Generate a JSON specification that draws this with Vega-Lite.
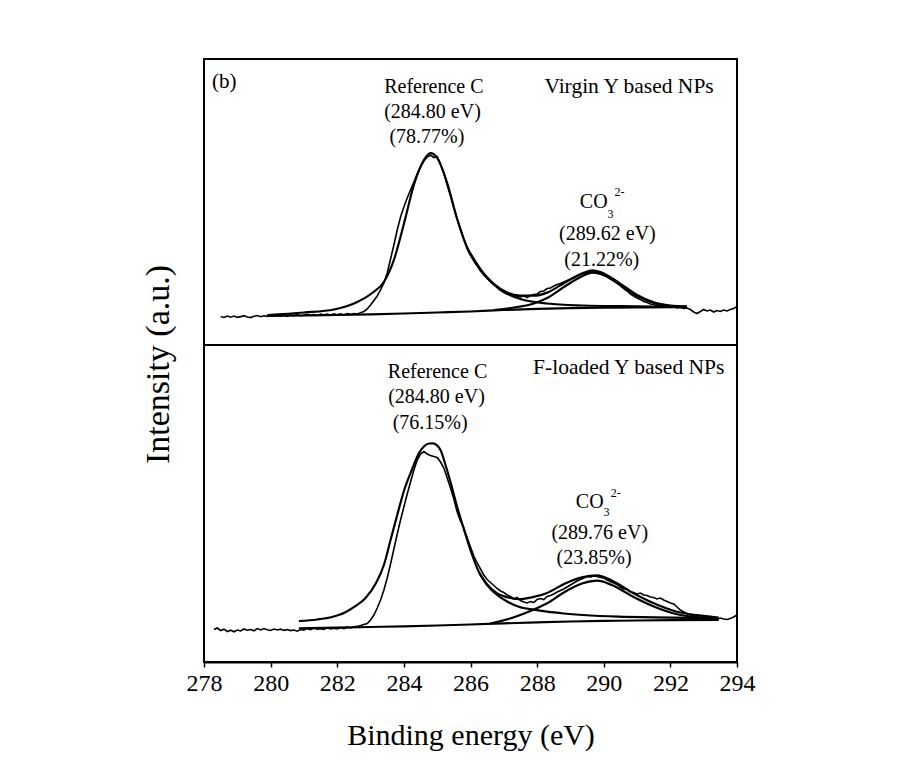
{
"$schema": "https://vega.github.io/schema/vega-lite/v6.json",
"autosize": {"type": "none"},
"padding": {"left": 204, "top": 59, "right": 167, "bottom": 114},
"width": 533,
"height": 603,
"background": "white",
"config": {"view": {"stroke": "black", "strokeWidth": 2}, "font": "Liberation Serif", "axis": {"grid": false}},
"datasets": {
"raw": [
{"panel":"top","energy":278.5,"intensity":345.5},{"panel":"top","energy":278.6,"intensity":344.5},{"panel":"top","energy":278.7,"intensity":346.0},{"panel":"top","energy":278.8,"intensity":344.8},{"panel":"top","energy":278.9,"intensity":345.9},{"panel":"top","energy":279.0,"intensity":344.6},{"panel":"top","energy":279.1,"intensity":345.4},{"panel":"top","energy":279.2,"intensity":346.3},{"panel":"top","energy":279.3,"intensity":345.0},{"panel":"top","energy":279.4,"intensity":344.4},{"panel":"top","energy":279.5,"intensity":345.7},{"panel":"top","energy":279.6,"intensity":346.5},{"panel":"top","energy":279.7,"intensity":345.3},{"panel":"top","energy":279.8,"intensity":346.2},{"panel":"top","energy":279.9,"intensity":345.6},{"panel":"top","energy":280.0,"intensity":346.8},{"panel":"top","energy":280.1,"intensity":345.8},{"panel":"top","energy":280.2,"intensity":347.1},{"panel":"top","energy":280.3,"intensity":346.0},{"panel":"top","energy":280.4,"intensity":346.9},{"panel":"top","energy":280.5,"intensity":345.7},{"panel":"top","energy":280.6,"intensity":347.2},{"panel":"top","energy":280.7,"intensity":346.4},{"panel":"top","energy":280.8,"intensity":347.5},{"panel":"top","energy":280.9,"intensity":346.3},{"panel":"top","energy":281.0,"intensity":346.9},{"panel":"top","energy":281.1,"intensity":347.8},{"panel":"top","energy":281.2,"intensity":346.6},{"panel":"top","energy":281.3,"intensity":347.4},{"panel":"top","energy":281.4,"intensity":346.5},{"panel":"top","energy":281.5,"intensity":348.0},{"panel":"top","energy":281.6,"intensity":347.1},{"panel":"top","energy":281.7,"intensity":347.9},{"panel":"top","energy":281.8,"intensity":346.8},{"panel":"top","energy":281.9,"intensity":348.2},{"panel":"top","energy":282.0,"intensity":347.3},{"panel":"top","energy":282.1,"intensity":348.1},{"panel":"top","energy":282.2,"intensity":347.0},{"panel":"top","energy":282.3,"intensity":348.4},{"panel":"top","energy":282.4,"intensity":347.6},{"panel":"top","energy":282.5,"intensity":348.5},{"panel":"top","energy":282.6,"intensity":348.0},{"panel":"top","energy":282.7,"intensity":349.2},{"panel":"top","energy":282.8,"intensity":350.5},{"panel":"top","energy":282.9,"intensity":353.0},{"panel":"top","energy":283.0,"intensity":357.0},{"panel":"top","energy":283.1,"intensity":361.5},{"panel":"top","energy":283.2,"intensity":366.0},{"panel":"top","energy":283.3,"intensity":372.0},{"panel":"top","energy":283.4,"intensity":379.0},{"panel":"top","energy":283.5,"intensity":389.0},{"panel":"top","energy":283.6,"intensity":403.0},{"panel":"top","energy":283.7,"intensity":417.0},{"panel":"top","energy":283.8,"intensity":432.0},{"panel":"top","energy":283.9,"intensity":445.0},{"panel":"top","energy":284.0,"intensity":455.0},{"panel":"top","energy":284.1,"intensity":464.0},{"panel":"top","energy":284.2,"intensity":472.0},{"panel":"top","energy":284.3,"intensity":480.0},{"panel":"top","energy":284.4,"intensity":488.0},{"panel":"top","energy":284.5,"intensity":495.0},{"panel":"top","energy":284.6,"intensity":501.0},{"panel":"top","energy":284.7,"intensity":505.0},{"panel":"top","energy":284.8,"intensity":507.0},{"panel":"top","energy":284.9,"intensity":504.5},{"panel":"top","energy":285.0,"intensity":505.5},{"panel":"top","energy":285.1,"intensity":498.0},{"panel":"top","energy":285.2,"intensity":489.0},{"panel":"top","energy":285.3,"intensity":477.0},{"panel":"top","energy":285.4,"intensity":466.0},{"panel":"top","energy":285.5,"intensity":454.0},{"panel":"top","energy":285.6,"intensity":443.0},{"panel":"top","energy":285.7,"intensity":433.0},{"panel":"top","energy":285.8,"intensity":423.0},{"panel":"top","energy":285.9,"intensity":415.0},{"panel":"top","energy":286.0,"intensity":408.0},{"panel":"top","energy":286.1,"intensity":402.0},{"panel":"top","energy":286.2,"intensity":396.5},{"panel":"top","energy":286.3,"intensity":391.0},{"panel":"top","energy":286.4,"intensity":387.0},{"panel":"top","energy":286.5,"intensity":383.5},{"panel":"top","energy":286.6,"intensity":380.5},{"panel":"top","energy":286.7,"intensity":378.0},{"panel":"top","energy":286.8,"intensity":375.5},{"panel":"top","energy":286.9,"intensity":373.0},{"panel":"top","energy":287.0,"intensity":371.5},{"panel":"top","energy":287.1,"intensity":369.0},{"panel":"top","energy":287.2,"intensity":367.5},{"panel":"top","energy":287.3,"intensity":367.0},{"panel":"top","energy":287.4,"intensity":365.5},{"panel":"top","energy":287.5,"intensity":365.0},{"panel":"top","energy":287.6,"intensity":366.0},{"panel":"top","energy":287.7,"intensity":364.5},{"panel":"top","energy":287.8,"intensity":366.5},{"panel":"top","energy":287.9,"intensity":367.5},{"panel":"top","energy":288.0,"intensity":368.0},{"panel":"top","energy":288.1,"intensity":370.5},{"panel":"top","energy":288.2,"intensity":371.0},{"panel":"top","energy":288.3,"intensity":373.5},{"panel":"top","energy":288.4,"intensity":374.0},{"panel":"top","energy":288.5,"intensity":376.0},{"panel":"top","energy":288.6,"intensity":377.5},{"panel":"top","energy":288.7,"intensity":378.5},{"panel":"top","energy":288.8,"intensity":380.0},{"panel":"top","energy":288.9,"intensity":381.5},{"panel":"top","energy":289.0,"intensity":383.0},{"panel":"top","energy":289.1,"intensity":384.5},{"panel":"top","energy":289.2,"intensity":386.0},{"panel":"top","energy":289.3,"intensity":387.5},{"panel":"top","energy":289.4,"intensity":388.5},{"panel":"top","energy":289.5,"intensity":389.5},{"panel":"top","energy":289.6,"intensity":390.5},{"panel":"top","energy":289.7,"intensity":390.0},{"panel":"top","energy":289.8,"intensity":389.5},{"panel":"top","energy":289.9,"intensity":388.5},{"panel":"top","energy":290.0,"intensity":387.0},{"panel":"top","energy":290.1,"intensity":385.5},{"panel":"top","energy":290.2,"intensity":384.0},{"panel":"top","energy":290.3,"intensity":381.5},{"panel":"top","energy":290.4,"intensity":379.0},{"panel":"top","energy":290.5,"intensity":376.0},{"panel":"top","energy":290.6,"intensity":373.5},{"panel":"top","energy":290.7,"intensity":371.0},{"panel":"top","energy":290.8,"intensity":368.0},{"panel":"top","energy":290.9,"intensity":366.0},{"panel":"top","energy":291.0,"intensity":364.0},{"panel":"top","energy":291.1,"intensity":362.5},{"panel":"top","energy":291.2,"intensity":360.5},{"panel":"top","energy":291.3,"intensity":359.5},{"panel":"top","energy":291.4,"intensity":358.0},{"panel":"top","energy":291.5,"intensity":357.5},{"panel":"top","energy":291.6,"intensity":356.5},{"panel":"top","energy":291.7,"intensity":356.0},{"panel":"top","energy":291.8,"intensity":355.0},{"panel":"top","energy":291.9,"intensity":355.5},{"panel":"top","energy":292.0,"intensity":354.5},{"panel":"top","energy":292.1,"intensity":355.0},{"panel":"top","energy":292.2,"intensity":354.0},{"panel":"top","energy":292.3,"intensity":354.5},{"panel":"top","energy":292.4,"intensity":353.5},{"panel":"top","energy":292.5,"intensity":354.0},{"panel":"top","energy":292.6,"intensity":352.5},{"panel":"top","energy":292.7,"intensity":350.0},{"panel":"top","energy":292.8,"intensity":348.5},{"panel":"top","energy":292.9,"intensity":350.5},{"panel":"top","energy":293.0,"intensity":352.5},{"panel":"top","energy":293.1,"intensity":351.0},{"panel":"top","energy":293.2,"intensity":352.0},{"panel":"top","energy":293.3,"intensity":350.0},{"panel":"top","energy":293.4,"intensity":351.5},{"panel":"top","energy":293.5,"intensity":350.5},{"panel":"top","energy":293.6,"intensity":352.0},{"panel":"top","energy":293.7,"intensity":351.0},{"panel":"top","energy":293.8,"intensity":352.5},{"panel":"top","energy":293.9,"intensity":353.5},{"panel":"top","energy":294.0,"intensity":355.5},
{"panel":"bottom","energy":278.3,"intensity":32.5},{"panel":"bottom","energy":278.4,"intensity":34.0},{"panel":"bottom","energy":278.5,"intensity":31.5},{"panel":"bottom","energy":278.6,"intensity":32.8},{"panel":"bottom","energy":278.7,"intensity":30.5},{"panel":"bottom","energy":278.8,"intensity":31.8},{"panel":"bottom","energy":278.9,"intensity":30.2},{"panel":"bottom","energy":279.0,"intensity":32.0},{"panel":"bottom","energy":279.1,"intensity":31.0},{"panel":"bottom","energy":279.2,"intensity":33.0},{"panel":"bottom","energy":279.3,"intensity":31.8},{"panel":"bottom","energy":279.4,"intensity":32.5},{"panel":"bottom","energy":279.5,"intensity":31.2},{"panel":"bottom","energy":279.6,"intensity":33.4},{"panel":"bottom","energy":279.7,"intensity":32.0},{"panel":"bottom","energy":279.8,"intensity":33.5},{"panel":"bottom","energy":279.9,"intensity":32.2},{"panel":"bottom","energy":280.0,"intensity":31.5},{"panel":"bottom","energy":280.1,"intensity":33.0},{"panel":"bottom","energy":280.2,"intensity":32.0},{"panel":"bottom","energy":280.3,"intensity":32.8},{"panel":"bottom","energy":280.4,"intensity":31.6},{"panel":"bottom","energy":280.5,"intensity":32.4},{"panel":"bottom","energy":280.6,"intensity":31.4},{"panel":"bottom","energy":280.7,"intensity":32.0},{"panel":"bottom","energy":280.8,"intensity":30.8},{"panel":"bottom","energy":280.9,"intensity":32.6},{"panel":"bottom","energy":281.0,"intensity":31.8},{"panel":"bottom","energy":281.1,"intensity":33.6},{"panel":"bottom","energy":281.2,"intensity":32.4},{"panel":"bottom","energy":281.3,"intensity":34.0},{"panel":"bottom","energy":281.4,"intensity":32.8},{"panel":"bottom","energy":281.5,"intensity":33.4},{"panel":"bottom","energy":281.6,"intensity":32.6},{"panel":"bottom","energy":281.7,"intensity":34.2},{"panel":"bottom","energy":281.8,"intensity":33.0},{"panel":"bottom","energy":281.9,"intensity":33.8},{"panel":"bottom","energy":282.0,"intensity":33.2},{"panel":"bottom","energy":282.1,"intensity":34.4},{"panel":"bottom","energy":282.2,"intensity":33.4},{"panel":"bottom","energy":282.3,"intensity":34.8},{"panel":"bottom","energy":282.4,"intensity":34.0},{"panel":"bottom","energy":282.5,"intensity":35.2},{"panel":"bottom","energy":282.6,"intensity":35.6},{"panel":"bottom","energy":282.7,"intensity":36.5},{"panel":"bottom","energy":282.8,"intensity":37.5},{"panel":"bottom","energy":282.9,"intensity":38.5},{"panel":"bottom","energy":283.0,"intensity":42.0},{"panel":"bottom","energy":283.1,"intensity":47.0},{"panel":"bottom","energy":283.2,"intensity":54.0},{"panel":"bottom","energy":283.3,"intensity":62.0},{"panel":"bottom","energy":283.4,"intensity":72.0},{"panel":"bottom","energy":283.5,"intensity":84.0},{"panel":"bottom","energy":283.6,"intensity":98.0},{"panel":"bottom","energy":283.7,"intensity":113.0},{"panel":"bottom","energy":283.8,"intensity":128.0},{"panel":"bottom","energy":283.9,"intensity":142.0},{"panel":"bottom","energy":284.0,"intensity":155.0},{"panel":"bottom","energy":284.1,"intensity":168.0},{"panel":"bottom","energy":284.2,"intensity":180.0},{"panel":"bottom","energy":284.3,"intensity":192.0},{"panel":"bottom","energy":284.4,"intensity":202.0},{"panel":"bottom","energy":284.5,"intensity":208.0},{"panel":"bottom","energy":284.6,"intensity":210.5},{"panel":"bottom","energy":284.7,"intensity":208.0},{"panel":"bottom","energy":284.8,"intensity":206.5},{"panel":"bottom","energy":284.9,"intensity":205.5},{"panel":"bottom","energy":285.0,"intensity":204.5},{"panel":"bottom","energy":285.1,"intensity":200.0},{"panel":"bottom","energy":285.2,"intensity":194.0},{"panel":"bottom","energy":285.3,"intensity":184.0},{"panel":"bottom","energy":285.4,"intensity":174.0},{"panel":"bottom","energy":285.5,"intensity":163.0},{"panel":"bottom","energy":285.6,"intensity":150.0},{"panel":"bottom","energy":285.7,"intensity":141.0},{"panel":"bottom","energy":285.8,"intensity":134.0},{"panel":"bottom","energy":285.9,"intensity":124.0},{"panel":"bottom","energy":286.0,"intensity":115.0},{"panel":"bottom","energy":286.1,"intensity":106.0},{"panel":"bottom","energy":286.2,"intensity":99.0},{"panel":"bottom","energy":286.3,"intensity":93.0},{"panel":"bottom","energy":286.4,"intensity":87.0},{"panel":"bottom","energy":286.5,"intensity":82.5},{"panel":"bottom","energy":286.6,"intensity":79.5},{"panel":"bottom","energy":286.7,"intensity":76.5},{"panel":"bottom","energy":286.8,"intensity":73.5},{"panel":"bottom","energy":286.9,"intensity":71.0},{"panel":"bottom","energy":287.0,"intensity":69.5},{"panel":"bottom","energy":287.1,"intensity":67.0},{"panel":"bottom","energy":287.2,"intensity":65.5},{"panel":"bottom","energy":287.3,"intensity":63.0},{"panel":"bottom","energy":287.4,"intensity":64.5},{"panel":"bottom","energy":287.5,"intensity":61.5},{"panel":"bottom","energy":287.6,"intensity":60.0},{"panel":"bottom","energy":287.7,"intensity":59.0},{"panel":"bottom","energy":287.8,"intensity":60.5},{"panel":"bottom","energy":287.9,"intensity":59.5},{"panel":"bottom","energy":288.0,"intensity":62.5},{"panel":"bottom","energy":288.1,"intensity":63.5},{"panel":"bottom","energy":288.2,"intensity":62.5},{"panel":"bottom","energy":288.3,"intensity":65.5},{"panel":"bottom","energy":288.4,"intensity":66.5},{"panel":"bottom","energy":288.5,"intensity":68.0},{"panel":"bottom","energy":288.6,"intensity":70.0},{"panel":"bottom","energy":288.7,"intensity":71.5},{"panel":"bottom","energy":288.8,"intensity":73.0},{"panel":"bottom","energy":288.9,"intensity":75.0},{"panel":"bottom","energy":289.0,"intensity":77.0},{"panel":"bottom","energy":289.1,"intensity":79.0},{"panel":"bottom","energy":289.2,"intensity":81.0},{"panel":"bottom","energy":289.3,"intensity":82.5},{"panel":"bottom","energy":289.4,"intensity":84.0},{"panel":"bottom","energy":289.5,"intensity":85.5},{"panel":"bottom","energy":289.6,"intensity":85.0},{"panel":"bottom","energy":289.7,"intensity":86.0},{"panel":"bottom","energy":289.8,"intensity":85.5},{"panel":"bottom","energy":289.9,"intensity":84.5},{"panel":"bottom","energy":290.0,"intensity":84.0},{"panel":"bottom","energy":290.1,"intensity":82.0},{"panel":"bottom","energy":290.2,"intensity":80.5},{"panel":"bottom","energy":290.3,"intensity":79.0},{"panel":"bottom","energy":290.4,"intensity":77.5},{"panel":"bottom","energy":290.5,"intensity":75.0},{"panel":"bottom","energy":290.6,"intensity":73.0},{"panel":"bottom","energy":290.7,"intensity":72.5},{"panel":"bottom","energy":290.8,"intensity":70.0},{"panel":"bottom","energy":290.9,"intensity":69.5},{"panel":"bottom","energy":291.0,"intensity":68.0},{"panel":"bottom","energy":291.1,"intensity":69.0},{"panel":"bottom","energy":291.2,"intensity":67.0},{"panel":"bottom","energy":291.3,"intensity":66.5},{"panel":"bottom","energy":291.4,"intensity":65.0},{"panel":"bottom","energy":291.5,"intensity":64.5},{"panel":"bottom","energy":291.6,"intensity":63.0},{"panel":"bottom","energy":291.7,"intensity":64.0},{"panel":"bottom","energy":291.8,"intensity":62.0},{"panel":"bottom","energy":291.9,"intensity":60.5},{"panel":"bottom","energy":292.0,"intensity":59.0},{"panel":"bottom","energy":292.1,"intensity":58.0},{"panel":"bottom","energy":292.2,"intensity":55.0},{"panel":"bottom","energy":292.3,"intensity":52.0},{"panel":"bottom","energy":292.4,"intensity":50.0},{"panel":"bottom","energy":292.5,"intensity":48.5},{"panel":"bottom","energy":292.6,"intensity":47.0},{"panel":"bottom","energy":292.7,"intensity":46.0},{"panel":"bottom","energy":292.8,"intensity":45.5},{"panel":"bottom","energy":292.9,"intensity":46.5},{"panel":"bottom","energy":293.0,"intensity":45.0},{"panel":"bottom","energy":293.1,"intensity":44.5},{"panel":"bottom","energy":293.2,"intensity":45.5},{"panel":"bottom","energy":293.3,"intensity":44.0},{"panel":"bottom","energy":293.4,"intensity":43.0},{"panel":"bottom","energy":293.5,"intensity":44.0},{"panel":"bottom","energy":293.6,"intensity":43.0},{"panel":"bottom","energy":293.7,"intensity":42.5},{"panel":"bottom","energy":293.8,"intensity":43.5},{"panel":"bottom","energy":293.9,"intensity":45.0},{"panel":"bottom","energy":294.0,"intensity":47.0}
],
"fit": [
{"panel":"top","curve":"baseline","energy":279.9,"intensity":346},{"panel":"top","curve":"baseline","energy":281,"intensity":346.5},{"panel":"top","curve":"baseline","energy":282,"intensity":347},{"panel":"top","curve":"baseline","energy":283,"intensity":347.7},{"panel":"top","curve":"baseline","energy":284,"intensity":348.5},{"panel":"top","curve":"baseline","energy":285,"intensity":349.5},{"panel":"top","curve":"baseline","energy":286,"intensity":350.5},{"panel":"top","curve":"baseline","energy":287,"intensity":352},{"panel":"top","curve":"baseline","energy":288,"intensity":353.1},{"panel":"top","curve":"baseline","energy":289,"intensity":353.8},{"panel":"top","curve":"baseline","energy":290,"intensity":354.3},{"panel":"top","curve":"baseline","energy":291,"intensity":354.6},{"panel":"top","curve":"baseline","energy":292,"intensity":354.9},{"panel":"top","curve":"baseline","energy":292.5,"intensity":355},
{"panel":"top","curve":"C","energy":279.9,"intensity":347},{"panel":"top","curve":"C","energy":281,"intensity":349.5},{"panel":"top","curve":"C","energy":281.9,"intensity":352.5},{"panel":"top","curve":"C","energy":282.6,"intensity":360},{"panel":"top","curve":"C","energy":283.05,"intensity":369},{"panel":"top","curve":"C","energy":283.4,"intensity":380},{"panel":"top","curve":"C","energy":283.7,"intensity":402},{"panel":"top","curve":"C","energy":284.0,"intensity":438},{"panel":"top","curve":"C","energy":284.3,"intensity":477},{"panel":"top","curve":"C","energy":284.6,"intensity":502},{"panel":"top","curve":"C","energy":284.8,"intensity":509},{"panel":"top","curve":"C","energy":285.0,"intensity":504},{"panel":"top","curve":"C","energy":285.3,"intensity":479},{"panel":"top","curve":"C","energy":285.6,"intensity":443},{"panel":"top","curve":"C","energy":285.9,"intensity":414},{"panel":"top","curve":"C","energy":286.4,"intensity":388},{"panel":"top","curve":"C","energy":286.9,"intensity":372},{"panel":"top","curve":"C","energy":287.5,"intensity":363},{"panel":"top","curve":"C","energy":288.3,"intensity":358.5},{"panel":"top","curve":"C","energy":289.4,"intensity":356.5},{"panel":"top","curve":"C","energy":290.5,"intensity":355.8},{"panel":"top","curve":"C","energy":291.5,"intensity":355.5},{"panel":"top","curve":"C","energy":292.5,"intensity":355.3},
{"panel":"top","curve":"CO3","energy":286.7,"intensity":351.8},{"panel":"top","curve":"CO3","energy":287.2,"intensity":354},{"panel":"top","curve":"CO3","energy":287.9,"intensity":358.5},{"panel":"top","curve":"CO3","energy":288.3,"intensity":364},{"panel":"top","curve":"CO3","energy":288.85,"intensity":376},{"panel":"top","curve":"CO3","energy":289.4,"intensity":386.5},{"panel":"top","curve":"CO3","energy":289.65,"intensity":389.3},{"panel":"top","curve":"CO3","energy":289.9,"intensity":388},{"panel":"top","curve":"CO3","energy":290.45,"intensity":378},{"panel":"top","curve":"CO3","energy":291.0,"intensity":366},{"panel":"top","curve":"CO3","energy":291.5,"intensity":359},{"panel":"top","curve":"CO3","energy":292.0,"intensity":356},{"panel":"top","curve":"CO3","energy":292.5,"intensity":355.2},
{"panel":"top","curve":"envelope","energy":285.9,"intensity":414},{"panel":"top","curve":"envelope","energy":286.4,"intensity":388.3},{"panel":"top","curve":"envelope","energy":286.9,"intensity":373},{"panel":"top","curve":"envelope","energy":287.5,"intensity":366.5},{"panel":"top","curve":"envelope","energy":287.9,"intensity":366.3},{"panel":"top","curve":"envelope","energy":288.3,"intensity":369.4},{"panel":"top","curve":"envelope","energy":288.85,"intensity":379.8},{"panel":"top","curve":"envelope","energy":289.4,"intensity":389.1},{"panel":"top","curve":"envelope","energy":289.65,"intensity":391.6},{"panel":"top","curve":"envelope","energy":289.9,"intensity":390},{"panel":"top","curve":"envelope","energy":290.45,"intensity":379.4},{"panel":"top","curve":"envelope","energy":291.0,"intensity":367},{"panel":"top","curve":"envelope","energy":291.5,"intensity":359.7},{"panel":"top","curve":"envelope","energy":292.0,"intensity":356.5},{"panel":"top","curve":"envelope","energy":292.5,"intensity":355.5},
{"panel":"bottom","curve":"baseline","energy":280.85,"intensity":33.7},{"panel":"bottom","curve":"baseline","energy":282,"intensity":34.3},{"panel":"bottom","curve":"baseline","energy":283,"intensity":35},{"panel":"bottom","curve":"baseline","energy":284,"intensity":35.7},{"panel":"bottom","curve":"baseline","energy":285,"intensity":36.5},{"panel":"bottom","curve":"baseline","energy":286,"intensity":37.5},{"panel":"bottom","curve":"baseline","energy":287,"intensity":38.6},{"panel":"bottom","curve":"baseline","energy":288,"intensity":39.6},{"panel":"bottom","curve":"baseline","energy":289,"intensity":40.5},{"panel":"bottom","curve":"baseline","energy":290,"intensity":41.1},{"panel":"bottom","curve":"baseline","energy":291,"intensity":41.5},{"panel":"bottom","curve":"baseline","energy":292,"intensity":41.8},{"panel":"bottom","curve":"baseline","energy":293.45,"intensity":42},
{"panel":"bottom","curve":"C","energy":280.85,"intensity":41},{"panel":"bottom","curve":"C","energy":281.4,"intensity":42.5},{"panel":"bottom","curve":"C","energy":281.87,"intensity":45.3},{"panel":"bottom","curve":"C","energy":282.2,"intensity":49},{"panel":"bottom","curve":"C","energy":282.52,"intensity":55.3},{"panel":"bottom","curve":"C","energy":282.85,"intensity":64},{"panel":"bottom","curve":"C","energy":283.16,"intensity":78.7},{"panel":"bottom","curve":"C","energy":283.4,"intensity":97},{"panel":"bottom","curve":"C","energy":283.6,"intensity":122},{"panel":"bottom","curve":"C","energy":283.8,"intensity":147},{"panel":"bottom","curve":"C","energy":284.01,"intensity":172},{"panel":"bottom","curve":"C","energy":284.25,"intensity":193},{"panel":"bottom","curve":"C","energy":284.45,"intensity":208.7},{"panel":"bottom","curve":"C","energy":284.6,"intensity":215.5},{"panel":"bottom","curve":"C","energy":284.75,"intensity":218.5},{"panel":"bottom","curve":"C","energy":284.88,"intensity":218.7},{"panel":"bottom","curve":"C","energy":285.0,"intensity":216.5},{"panel":"bottom","curve":"C","energy":285.1,"intensity":212},{"panel":"bottom","curve":"C","energy":285.25,"intensity":197},{"panel":"bottom","curve":"C","energy":285.41,"intensity":178.7},{"panel":"bottom","curve":"C","energy":285.6,"intensity":155},{"panel":"bottom","curve":"C","energy":285.84,"intensity":128.7},{"panel":"bottom","curve":"C","energy":286.05,"intensity":107},{"panel":"bottom","curve":"C","energy":286.27,"intensity":88.7},{"panel":"bottom","curve":"C","energy":286.5,"intensity":77},{"panel":"bottom","curve":"C","energy":286.8,"intensity":67},{"panel":"bottom","curve":"C","energy":287.1,"intensity":60.5},{"panel":"bottom","curve":"C","energy":287.45,"intensity":55.3},{"panel":"bottom","curve":"C","energy":287.9,"intensity":52.3},{"panel":"bottom","curve":"C","energy":288.3,"intensity":50.3},{"panel":"bottom","curve":"C","energy":288.8,"intensity":48.5},{"panel":"bottom","curve":"C","energy":289.37,"intensity":47},{"panel":"bottom","curve":"C","energy":290.45,"intensity":45.3},{"panel":"bottom","curve":"C","energy":291.52,"intensity":44.7},{"panel":"bottom","curve":"C","energy":292.5,"intensity":44.2},{"panel":"bottom","curve":"C","energy":293.45,"intensity":43.7},
{"panel":"bottom","curve":"CO3","energy":286.6,"intensity":38.5},{"panel":"bottom","curve":"CO3","energy":287.24,"intensity":44},{"panel":"bottom","curve":"CO3","energy":287.87,"intensity":52},{"panel":"bottom","curve":"CO3","energy":288.3,"intensity":58.7},{"panel":"bottom","curve":"CO3","energy":288.84,"intensity":70.3},{"panel":"bottom","curve":"CO3","energy":289.37,"intensity":78.7},{"panel":"bottom","curve":"CO3","energy":289.8,"intensity":81.3},{"panel":"bottom","curve":"CO3","energy":290.24,"intensity":77},{"panel":"bottom","curve":"CO3","energy":290.88,"intensity":65.3},{"panel":"bottom","curve":"CO3","energy":291.52,"intensity":55.3},{"panel":"bottom","curve":"CO3","energy":292.17,"intensity":48},{"panel":"bottom","curve":"CO3","energy":292.8,"intensity":44.7},{"panel":"bottom","curve":"CO3","energy":293.45,"intensity":42.7},
{"panel":"bottom","curve":"envelope","energy":286.27,"intensity":88.9},{"panel":"bottom","curve":"envelope","energy":286.5,"intensity":77.5},{"panel":"bottom","curve":"envelope","energy":286.8,"intensity":68.6},{"panel":"bottom","curve":"envelope","energy":287.1,"intensity":64.8},{"panel":"bottom","curve":"envelope","energy":287.45,"intensity":62.8},{"panel":"bottom","curve":"envelope","energy":287.9,"intensity":65.1},{"panel":"bottom","curve":"envelope","energy":288.3,"intensity":69.1},{"panel":"bottom","curve":"envelope","energy":288.84,"intensity":78.5},{"panel":"bottom","curve":"envelope","energy":289.37,"intensity":84.9},{"panel":"bottom","curve":"envelope","energy":289.8,"intensity":86.6},{"panel":"bottom","curve":"envelope","energy":290.24,"intensity":81.6},{"panel":"bottom","curve":"envelope","energy":290.88,"intensity":69},{"panel":"bottom","curve":"envelope","energy":291.52,"intensity":58.4},{"panel":"bottom","curve":"envelope","energy":292.17,"intensity":50.5},{"panel":"bottom","curve":"envelope","energy":292.8,"intensity":46.8},{"panel":"bottom","curve":"envelope","energy":293.45,"intensity":44.4}
],
"labels": [
{"text":"Reference C","energy":284.90,"intensity":575.3},
{"text":"(284.80 eV)","energy":284.86,"intensity":550.3},
{"text":"(78.77%)","energy":284.69,"intensity":525},
{"text":"CO","energy":289.70,"intensity":460.3},
{"text":"(289.62 eV)","energy":290.11,"intensity":428},
{"text":"(21.22%)","energy":289.94,"intensity":402},
{"text":"Reference C","energy":285.01,"intensity":290.3},
{"text":"(284.80 eV)","energy":284.98,"intensity":264.7},
{"text":"(76.15%)","energy":284.79,"intensity":239.3},
{"text":"CO","energy":289.58,"intensity":160.3},
{"text":"(289.76 eV)","energy":289.88,"intensity":129.3},
{"text":"(23.85%)","energy":289.71,"intensity":103.7}
],
"scripts": [
{"text":"3","energy":290.20,"intensity":448.5},
{"text":"2-","energy":290.47,"intensity":470},
{"text":"3","energy":290.08,"intensity":150.5},
{"text":"2-","energy":290.36,"intensity":169.5}
],
"samples": [
{"text":"Virgin Y based NPs","energy":290.76,"intensity":575.3},
{"text":"F-loaded Y based NPs","energy":290.75,"intensity":293.7}
],
"corner": [
{"text":"(b)","energy":278.24,"intensity":580}
]
},
"layer": [
{
"data": {"name": "raw"},
"mark": {"type": "line", "color": "black", "strokeWidth": 1.6},
"encoding": {
"x": {"field": "energy", "type": "quantitative", "scale": {"domain": [278, 294], "nice": false, "zero": false},
"axis": {"values": [278,279,280,281,282,283,284,285,286,287,288,289,290,291,292,293,294],
"labelExpr": "datum.value % 2 === 0 ? datum.label : ''",
"tickSize": 5, "tickWidth": 1.5, "tickColor": "black", "domainColor": "black", "domainWidth": 2,
"labelFont": "Liberation Serif", "labelFontSize": 24, "labelColor": "black", "labelPadding": 4,
"labelOverlap": false, "labelFlush": false,
"title": "Binding energy (eV)", "titleFont": "Liberation Serif", "titleFontSize": 30, "titleFontWeight": "normal",
"titleColor": "black", "titleBaseline": "alphabetic", "titleY": 82, "grid": false}},
"y": {"field": "intensity", "type": "quantitative", "scale": {"domain": [0, 603], "nice": false, "zero": false},
"axis": {"title": "Intensity (a.u.)", "domain": false, "ticks": false, "labels": false, "grid": false,
"titleFont": "Liberation Serif", "titleFontSize": 34, "titleFontWeight": "normal", "titleColor": "black",
"titleX": -46, "titleY": 305, "titleBaseline": "middle", "titleAlign": "center", "titleAngle": -90}},
"detail": {"field": "panel"}
}
},
{
"data": {"name": "fit"},
"mark": {"type": "line", "color": "black", "strokeWidth": 2.2, "interpolate": "monotone"},
"encoding": {
"x": {"field": "energy", "type": "quantitative"},
"y": {"field": "intensity", "type": "quantitative"},
"detail": [{"field": "panel"}, {"field": "curve"}]
}
},
{
"data": {"values": [{"divider": 317}]},
"mark": {"type": "rule", "color": "black", "strokeWidth": 2},
"encoding": {"y": {"field": "divider", "type": "quantitative"}}
},
{
"data": {"name": "labels"},
"mark": {"type": "text", "font": "Liberation Serif", "fontSize": 20, "color": "black", "align": "center", "baseline": "middle"},
"encoding": {"x": {"field": "energy", "type": "quantitative"}, "y": {"field": "intensity", "type": "quantitative"}, "text": {"field": "text"}}
},
{
"data": {"name": "scripts"},
"mark": {"type": "text", "font": "Liberation Serif", "fontSize": 12, "color": "black", "align": "center", "baseline": "middle"},
"encoding": {"x": {"field": "energy", "type": "quantitative"}, "y": {"field": "intensity", "type": "quantitative"}, "text": {"field": "text"}}
},
{
"data": {"name": "samples"},
"mark": {"type": "text", "font": "Liberation Serif", "fontSize": 21.5, "color": "black", "align": "center", "baseline": "middle"},
"encoding": {"x": {"field": "energy", "type": "quantitative"}, "y": {"field": "intensity", "type": "quantitative"}, "text": {"field": "text"}}
},
{
"data": {"name": "corner"},
"mark": {"type": "text", "font": "Liberation Serif", "fontSize": 21, "color": "black", "align": "left", "baseline": "middle"},
"encoding": {"x": {"field": "energy", "type": "quantitative"}, "y": {"field": "intensity", "type": "quantitative"}, "text": {"field": "text"}}
}
]
}
